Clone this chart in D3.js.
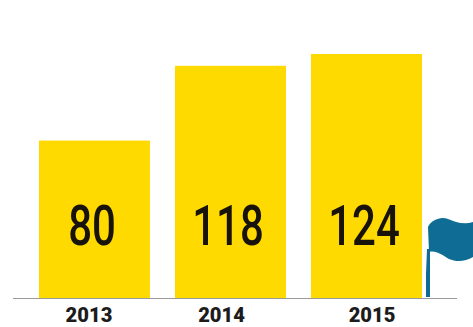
<!DOCTYPE html>
<html>
<head>
<meta charset="utf-8">
<script src="https://cdn.jsdelivr.net/npm/d3@7/dist/d3.min.js"></script>
<style>
html, body { margin: 0; padding: 0; background: #fff; }
svg { display: block; }
</style>
</head>
<body>
<svg id="chart" width="473" height="327"></svg>
<script>
const years = ["2013", "2014", "2015"];
const values = [80, 118, 124];
const yearLabelShift = [-5.5, -9, 5.5];

const svg = d3.select("#chart");
const baseline = 298;

const x = d3.scaleBand().domain(years).range([39, 422]).paddingInner(0.184);
const y = d3.scaleLinear().domain([0, 124]).range([baseline, 54]);

// Bars
svg.selectAll("rect.bar")
  .data(years)
  .join("rect")
  .attr("class", "bar")
  .attr("x", d => x(d))
  .attr("width", x.bandwidth())
  .attr("y", (d, i) => y(values[i]))
  .attr("height", (d, i) => baseline - y(values[i]))
  .attr("fill", "#ffda00");

// Baseline rule
svg.append("line")
  .attr("x1", 13).attr("x2", 457)
  .attr("y1", baseline + 0.5).attr("y2", baseline + 0.5)
  .attr("stroke", "#9a9a9a")
  .attr("stroke-width", 1.2);

// Condensed value labels inside the bars
svg.selectAll("text.value")
  .data(years)
  .join("text")
  .attr("class", "value")
  .attr("transform", d => `translate(${x(d) + x.bandwidth() / 2 - 2.5},245) scale(0.75,1)`)
  .attr("text-anchor", "middle")
  .attr("font-family", "Roboto, sans-serif")
  .attr("font-weight", 500)
  .attr("font-size", 56)
  .attr("fill", "#17120a")
  .text((d, i) => values[i]);

// Year labels under the baseline
svg.selectAll("text.year")
  .data(years)
  .join("text")
  .attr("class", "year")
  .attr("transform", (d, i) => `translate(${x(d) + x.bandwidth() / 2 + yearLabelShift[i]},322) scale(0.96,1)`)
  .attr("text-anchor", "middle")
  .attr("font-family", "Roboto, sans-serif")
  .attr("font-weight", 900)
  .attr("font-size", 21)
  .attr("fill", "#1c1c1c")
  .text(d => d);

// Flag emblem at the right edge
const flag = svg.append("g");
flag.append("path")
  .attr("d", "M426 297 L426 274 L427 249 L430 249 L430 297 Z")
  .attr("fill", "#0f6c95");
flag.append("path")
  .attr("d", "M428 227 C431 220 441 216 448 219 C455 222 464 225 473 222 L473 257 C465 262 456 262 449 259 C442 255 436 250 429 252 Z")
  .attr("fill", "#0f6c95");
</script>
</body>
</html>
